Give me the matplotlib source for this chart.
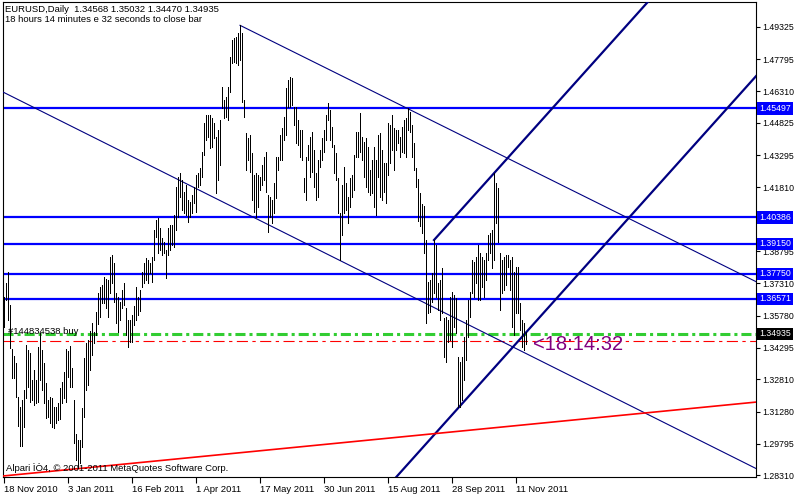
import matplotlib
matplotlib.use('Agg')
from matplotlib import pyplot as plt
import matplotlib.transforms as mtransforms

plt.rcParams['font.family'] = ['Liberation Sans', 'DejaVu Sans']

# daily EURUSD bars, index 0 = 18 Nov 2010
highs = [
    1.3668, 1.3730, 1.3785, 1.3629, 1.3421, 1.3390, 1.3355, 1.3199, 1.3152, 1.3184,
    1.3230, 1.3440, 1.3418, 1.3402, 1.3277, 1.3324, 1.3277, 1.3434, 1.3499, 1.3418,
    1.3355, 1.3262, 1.3184, 1.3199, 1.3192, 1.3152, 1.3152, 1.3168, 1.3238, 1.3270,
    1.3316, 1.3421, 1.3413, 1.3437, 1.3332, 1.3184, 1.3024, 1.2996, 1.2996, 1.3145,
    1.3379, 1.3452, 1.3465, 1.3507, 1.3543, 1.3504, 1.3598, 1.3687, 1.3715, 1.3723,
    1.3762, 1.3749, 1.3746, 1.3855, 1.3863, 1.3824, 1.3683, 1.3668, 1.3644, 1.3699,
    1.3730, 1.3613, 1.3558, 1.3558, 1.3582, 1.3624, 1.3715, 1.3668, 1.3700, 1.3785,
    1.3824, 1.3847, 1.3840, 1.3824, 1.3855, 1.3980, 1.4027, 1.4035, 1.3988, 1.3941,
    1.3925, 1.3886, 1.3988, 1.4004, 1.4004, 1.4050, 1.4183, 1.4230, 1.4246, 1.4214,
    1.4160, 1.4191, 1.4121, 1.4113, 1.4144, 1.4183, 1.4238, 1.4246, 1.4269, 1.4347,
    1.4480, 1.4519, 1.4519, 1.4519, 1.4503, 1.4480, 1.4417, 1.4449, 1.4495, 1.4652,
    1.4589, 1.4605, 1.4652, 1.4792, 1.4870, 1.4878, 1.4886, 1.4901, 1.4939, 1.4901,
    1.4589, 1.4433, 1.4410, 1.4425, 1.4339, 1.4238, 1.4246, 1.4238, 1.4230, 1.4285,
    1.4324, 1.4347, 1.4144, 1.4136, 1.4121, 1.4199, 1.4324, 1.4324, 1.4425, 1.4457,
    1.4511, 1.4644, 1.4683, 1.4698, 1.4691, 1.4558, 1.4558, 1.4495, 1.4449, 1.4449,
    1.4222, 1.4324, 1.4378, 1.4417, 1.4441, 1.4355, 1.4246, 1.4308, 1.4355, 1.4410,
    1.4449, 1.4519, 1.4574, 1.4542, 1.4464, 1.4378, 1.4339, 1.4222, 1.4058, 1.4191,
    1.4277, 1.4199, 1.4136, 1.4222, 1.4238, 1.4331, 1.4441, 1.4441, 1.4527, 1.4417,
    1.4394, 1.4410, 1.4371, 1.4261, 1.4308, 1.4371, 1.4308, 1.4425, 1.4433, 1.4355,
    1.4292, 1.4292, 1.4480, 1.4472, 1.4519, 1.4457, 1.4449, 1.4449, 1.4417, 1.4464,
    1.4495, 1.4503, 1.4550, 1.4534, 1.4472, 1.4386, 1.4270, 1.4220, 1.4152, 1.4100,
    1.4093, 1.3933, 1.3738, 1.3746, 1.3777, 1.3933, 1.3910, 1.3730, 1.3746, 1.3800,
    1.3566, 1.3574, 1.3558, 1.3668, 1.3691, 1.3676, 1.3660, 1.3387, 1.3363, 1.3387,
    1.3480, 1.3558, 1.3652, 1.3691, 1.3840, 1.3832, 1.3855, 1.3910, 1.3871, 1.3855,
    1.3840, 1.3871, 1.3957, 1.3965, 1.3980, 1.4246, 1.4199, 1.4175, 1.3871, 1.3840,
    1.3855, 1.3863, 1.3863, 1.3840, 1.3855, 1.3785, 1.3808, 1.3808, 1.3636, 1.3558,
    1.3543, 1.35032,
]
lows = [
    1.3527, 1.3652, 1.3558, 1.3426, 1.3285, 1.3285, 1.3199, 1.3062, 1.2968, 1.2968,
    1.3059, 1.3192, 1.3243, 1.3176, 1.3184, 1.3160, 1.3168, 1.3176, 1.3277, 1.3230,
    1.3168, 1.3098, 1.3106, 1.3074, 1.3059, 1.3051, 1.3074, 1.3090, 1.3093, 1.3168,
    1.3192, 1.3176, 1.3293, 1.3246, 1.3246, 1.2981, 1.2903, 1.2864, 1.2887, 1.2965,
    1.3106, 1.3230, 1.3254, 1.3324, 1.3395, 1.3452, 1.3488, 1.3540, 1.3574, 1.3637,
    1.3637, 1.3613, 1.3574, 1.3683, 1.3733, 1.3644, 1.3543, 1.3504, 1.3558, 1.3613,
    1.3629, 1.3488, 1.3430, 1.3457, 1.3457, 1.3535, 1.3560, 1.3580, 1.3600, 1.3715,
    1.3730, 1.3746, 1.3730, 1.3777, 1.3738, 1.3840, 1.3949, 1.3871, 1.3886, 1.3863,
    1.3871, 1.3754, 1.3863, 1.3886, 1.3910, 1.3902, 1.3980, 1.4043, 1.4136, 1.4074,
    1.4058, 1.4050, 1.4019, 1.4043, 1.4058, 1.4105, 1.4066, 1.4183, 1.4191, 1.4230,
    1.4331, 1.4402, 1.4417, 1.4363, 1.4370, 1.4410, 1.4152, 1.4214, 1.4285, 1.4550,
    1.4503, 1.4511, 1.4495, 1.4628, 1.4761, 1.4769, 1.4761, 1.4753, 1.4777, 1.4581,
    1.4511, 1.4261, 1.4308, 1.4253, 1.4121, 1.4066, 1.4043, 1.4089, 1.4168, 1.4191,
    1.4214, 1.4160, 1.3972, 1.4043, 1.4011, 1.4058, 1.4129, 1.4261, 1.4308, 1.4308,
    1.4402, 1.4425, 1.4558, 1.4558, 1.4566, 1.4472, 1.4386, 1.4378, 1.4324, 1.4308,
    1.4160, 1.4121, 1.4308, 1.4230, 1.4253, 1.4183, 1.4121, 1.4136, 1.4277, 1.4308,
    1.4347, 1.4402, 1.4495, 1.4402, 1.4371, 1.4246, 1.4214, 1.4058, 1.3839, 1.3957,
    1.4058, 1.4074, 1.4011, 1.4089, 1.4136, 1.4168, 1.4324, 1.4324, 1.4347, 1.4308,
    1.4230, 1.4183, 1.4160, 1.4144, 1.4152, 1.4089, 1.4050, 1.4230, 1.4136, 1.4121,
    1.4160, 1.4105, 1.4238, 1.4292, 1.4355, 1.4261, 1.4355, 1.4386, 1.4324, 1.4347,
    1.4339, 1.4324, 1.4449, 1.4441, 1.4324, 1.4261, 1.4183, 1.4020, 1.4000, 1.3968,
    1.3871, 1.3543, 1.3590, 1.3597, 1.3644, 1.3683, 1.3668, 1.3605, 1.3558, 1.3590,
    1.3387, 1.3363, 1.3457, 1.3465, 1.3433, 1.3527, 1.3496, 1.3152, 1.3152, 1.3184,
    1.3277, 1.3371, 1.3480, 1.3574, 1.3683, 1.3668, 1.3730, 1.3652, 1.3652, 1.3715,
    1.3668, 1.3746, 1.3840, 1.3871, 1.3800, 1.3840, 1.4011, 1.3925, 1.3605, 1.3683,
    1.3699, 1.3722, 1.3808, 1.3699, 1.3527, 1.3488, 1.3590, 1.3590, 1.3511, 1.3433,
    1.3418, 1.34470,
]

date_pos = [0, 32, 64, 96, 128, 160, 192, 224, 256]
date_labels = ['18 Nov 2010', '3 Jan 2011', '16 Feb 2011', '1 Apr 2011', '17 May 2011',
               '30 Jun 2011', '15 Aug 2011', '28 Sep 2011', '11 Nov 2011']
price_ticks = [1.49325, 1.47795, 1.46310, 1.44825, 1.43295, 1.41810, 1.40325, 1.38795,
               1.37310, 1.35780, 1.34295, 1.32810, 1.31280, 1.29795, 1.28310]

levels = [1.45497, 1.40386, 1.39150, 1.37750, 1.36571]
bid = 1.34935
order_price = 1.3460
order_label = '#144834538 buy'

# trend lines: (bar, price) anchor pairs
trend_low = [(0, 1.4624), (168, 1.3837)]
trend_high = [(118, 1.4939), (202, 1.4548)]
channel_top = [(215, 1.3933), (245, 1.4246)]
channel_bottom = [(227, 1.3145), (261, 1.3500)]
support = [(37, 1.2862), (261, 1.3068)]

XMAX = 376
fig = plt.figure(figsize=(7.94, 4.94), dpi=100)
ax = fig.add_axes([3 / 794, 17 / 494, 753 / 794, 475 / 494])
ax.set_xlim(-0.5, XMAX)
ax.set_ylim(1.28228, 1.50482)

for v in levels:
    ax.axhline(v, color='#0000FF', lw=1.6, zorder=2)
ax.axhline(bid, color='#32CD32', lw=2.2, ls=(0, (3.3, 1.3, 1, 1.3)), zorder=2)
ax.axhline(order_price, color='#FF0000', lw=0.8, ls=(0, (10, 4, 3, 4)), zorder=2)

ax.axline(*trend_low, color='#000080', lw=0.8, zorder=3)
ax.axline(*channel_bottom, color='#000080', lw=1.6, zorder=3)
ax.axline(*support, color='#FF0000', lw=1.2, zorder=3)


def ray(pts, **kw):
    (x0, y0), (x1, y1) = pts
    k = (y1 - y0) / (x1 - x0)
    ax.plot([x0, XMAX], [y0, y0 + k * (XMAX - x0)], **kw)


ray(trend_high, color='#000080', lw=0.8, zorder=3)
ray(channel_top, color='#000080', lw=1.6, zorder=3)

ax.vlines(range(len(highs)), lows, highs, colors='black', lw=0.6, zorder=4,
          antialiased=False)

ax.yaxis.tick_right()
# the 1.40325 label sits under the 1.40386 level box in the original
ax.set_yticks(price_ticks, ['' if p == 1.40325 else '%.5f' % p for p in price_ticks])
ax.tick_params(axis='y', direction='out', length=3, width=0.8, pad=1.5, labelsize=6.3)
ax.set_xticks(date_pos, date_labels)
for t in ax.get_xticklabels():
    t.set_horizontalalignment('left')
ax.tick_params(axis='x', direction='out', length=4, width=0.8, pad=1.5, labelsize=6.8)
for s in ax.spines.values():
    s.set_linewidth(0.8)

trans = mtransforms.blended_transform_factory(ax.transAxes, ax.transData)
box_x = 1 + 3 / 753
for v in levels:
    ax.text(box_x, v, '%.5f' % v, transform=trans, color='white', fontsize=6.3,
            va='center', ha='left', clip_on=False, zorder=6,
            bbox=dict(boxstyle='square,pad=0.2', fc='#0000FF', ec='none'))
ax.text(box_x, bid, '%.5f' % bid, transform=trans, color='white', fontsize=6.3,
        va='center', ha='left', clip_on=False, zorder=6,
        bbox=dict(boxstyle='square,pad=0.2', fc='black', ec='none'))

ax.text(2, order_price + 0.0022, order_label, fontsize=6.8, va='bottom', zorder=5)
ax.text(264.5, 1.3418, '<18:14:32', fontsize=14.5, color='#800080', va='baseline', zorder=5)

fig.text(5 / 794, 1 - 12 / 494, 'EURUSD,Daily  1.34568 1.35032 1.34470 1.34935',
         fontsize=6.8, va='baseline')
fig.text(5 / 794, 1 - 22 / 494, '18 hours 14 minutes e 32 seconds to close bar',
         fontsize=6.8, va='baseline')
fig.text(6 / 794, 1 - 471 / 494, 'Alpari ÌÒ4, © 2001-2011 MetaQuotes Software Corp.',
         fontsize=6.8, va='baseline')

fig.savefig('out.png', dpi=100)
